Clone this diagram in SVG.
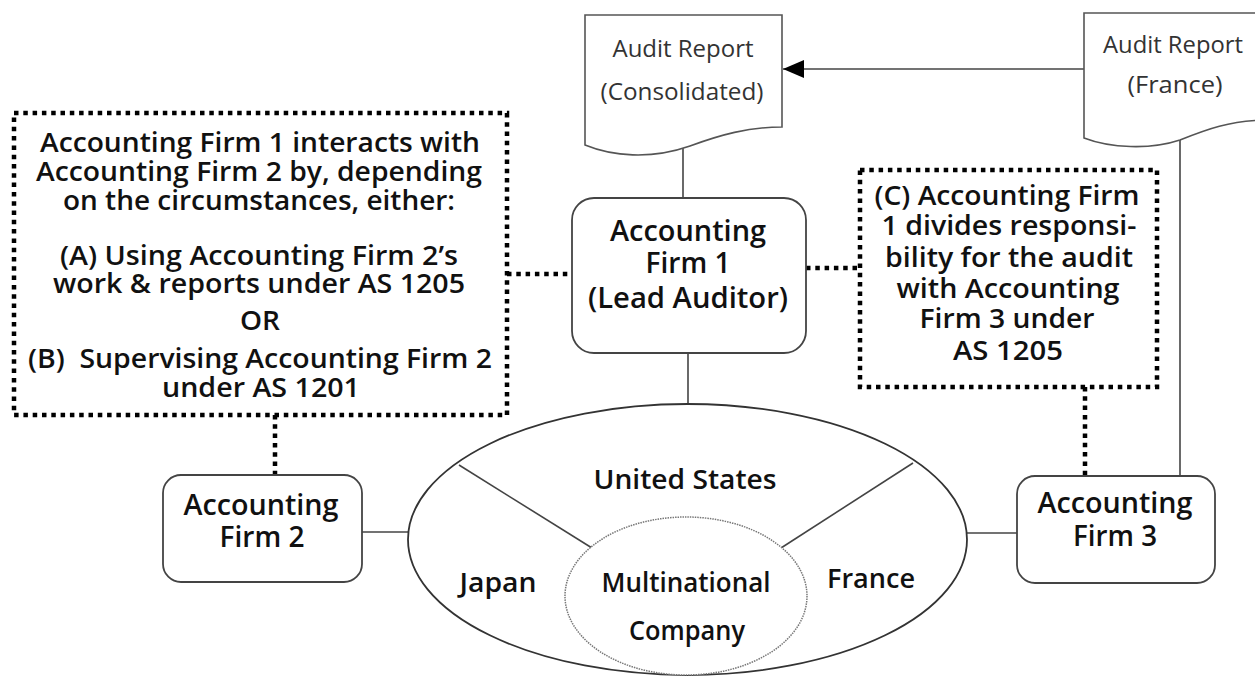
<svg xmlns="http://www.w3.org/2000/svg" width="1255" height="677" viewBox="0 0 1255 677">
<style>
  .doc{fill:#fff;stroke:#555;stroke-width:1.6}
  .box{fill:#fff;stroke:#444;stroke-width:1.8}
  .dotbox{fill:#fff;stroke:#000;stroke-width:4.5;stroke-dasharray:4.5 4.8}
  .dot{fill:none;stroke:#000;stroke-width:4.5;stroke-dasharray:4.5 4.8}
  .ln{fill:none;stroke:#444;stroke-width:1.6}
  .t{font-family:"Open Sans","Liberation Sans",sans-serif;font-weight:600;fill:#111;text-anchor:middle}
  .big{font-size:27px}
  .mid{font-size:28px}
  .lt{font-family:"Open Sans","Liberation Sans",sans-serif;font-weight:400;fill:#333;text-anchor:middle;font-size:24px}
  .el{font-family:"Open Sans","Liberation Sans",sans-serif;font-weight:600;fill:#111;text-anchor:middle;font-size:27px}
</style>
<defs>
  <marker id="arr" markerUnits="userSpaceOnUse" markerWidth="22" markerHeight="20" refX="21" refY="9" orient="auto">
    <path d="M0,0 L21,9 L0,18 Z" fill="#000"/>
  </marker>
</defs>
<rect width="1255" height="677" fill="#fff"/>

<g id="connectors">
  <line class="ln" x1="683" y1="147" x2="683" y2="198"/>
  <line class="ln" x1="1084" y1="69" x2="783" y2="69" marker-end="url(#arr)"/>
  <line class="ln" x1="1180" y1="140" x2="1180" y2="476"/>
  <line class="ln" x1="688" y1="353" x2="688" y2="413"/>
  <line class="dot" x1="507" y1="274" x2="572" y2="274"/>
  <line class="dot" x1="806" y1="268" x2="860" y2="268"/>
  <line class="dot" x1="275" y1="415" x2="275" y2="475"/>
  <line class="dot" x1="1085" y1="387" x2="1085" y2="476"/>
  <line class="ln" x1="362" y1="532" x2="473" y2="532"/>
  <line class="ln" x1="903" y1="533" x2="1017" y2="533"/>
</g>

<g id="company">
  <ellipse cx="687.5" cy="539.5" rx="279.5" ry="135.5" fill="#fff" stroke="#333" stroke-width="1.8"/>
  <line class="ln" x1="459" y1="465" x2="592" y2="548"/>
  <line class="ln" x1="913" y1="463" x2="781" y2="548"/>
  <ellipse cx="686" cy="596" rx="121" ry="79" fill="#fff" stroke="#777" stroke-width="1.5" stroke-dasharray="1.5 1"/>
  <text class="el" x="685" y="489" textLength="183" lengthAdjust="spacingAndGlyphs">United States</text>
  <text class="el" x="498" y="592" textLength="77" lengthAdjust="spacingAndGlyphs">Japan</text>
  <text class="el" x="871" y="588" textLength="88" lengthAdjust="spacingAndGlyphs">France</text>
  <text class="el" x="686" y="592" textLength="169" lengthAdjust="spacingAndGlyphs">Multinational</text>
  <text class="el" x="687" y="640" textLength="116" lengthAdjust="spacingAndGlyphs">Company</text>
</g>

<g id="report-consolidated">
  <path class="doc" d="M585,15 L782,15 L782,127 C748,127 720,135 690,146 C650,160 612,156 585,145 Z"/>
  <text class="lt" x="683" y="57" textLength="141" lengthAdjust="spacingAndGlyphs">Audit Report</text>
  <text class="lt" x="682" y="100" textLength="163" lengthAdjust="spacingAndGlyphs">(Consolidated)</text>
</g>

<g id="report-france">
  <path class="doc" d="M1084,13 L1270,13 L1270,120 C1230,120 1205,130 1180,140 C1150,150 1110,148 1084,138 Z"/>
  <text class="lt" x="1173" y="53" textLength="140" lengthAdjust="spacingAndGlyphs">Audit Report</text>
  <text class="lt" x="1175" y="93" textLength="95" lengthAdjust="spacingAndGlyphs">(France)</text>
</g>

<g id="note-ab">
  <rect class="dotbox" x="14" y="113" width="493" height="302"/>
  <text class="t big" x="260" y="152" textLength="440" lengthAdjust="spacingAndGlyphs">Accounting Firm 1 interacts with</text>
  <text class="t big" x="259" y="181" textLength="446" lengthAdjust="spacingAndGlyphs">Accounting Firm 2 by, depending</text>
  <text class="t big" x="259" y="210" textLength="392" lengthAdjust="spacingAndGlyphs">on the circumstances, either:</text>
  <text class="t big" x="259" y="265" textLength="398" lengthAdjust="spacingAndGlyphs">(A) Using Accounting Firm 2’s</text>
  <text class="t big" x="259" y="293" textLength="412" lengthAdjust="spacingAndGlyphs">work &amp; reports under AS 1205</text>
  <text class="t big" x="260" y="330" textLength="40" lengthAdjust="spacingAndGlyphs">OR</text>
  <text class="t big" x="260" y="368" textLength="464" lengthAdjust="spacingAndGlyphs" xml:space="preserve">(B)  Supervising Accounting Firm 2</text>
  <text class="t big" x="261" y="397" textLength="198" lengthAdjust="spacingAndGlyphs">under AS 1201</text>
</g>

<g id="note-c">
  <rect class="dotbox" x="860" y="170" width="297" height="217"/>
  <text class="t big" x="1007" y="205" textLength="265" lengthAdjust="spacingAndGlyphs">(C) Accounting Firm</text>
  <text class="t big" x="1009" y="235" textLength="255" lengthAdjust="spacingAndGlyphs">1 divides responsi-</text>
  <text class="t big" x="1009" y="267" textLength="248" lengthAdjust="spacingAndGlyphs">bility for the audit</text>
  <text class="t big" x="1008" y="298" textLength="223" lengthAdjust="spacingAndGlyphs">with Accounting</text>
  <text class="t big" x="1007" y="328" textLength="175" lengthAdjust="spacingAndGlyphs">Firm 3 under</text>
  <text class="t big" x="1008" y="360" textLength="110" lengthAdjust="spacingAndGlyphs">AS 1205</text>
</g>

<g id="firm1">
  <rect class="box" x="572" y="198" width="234" height="155" rx="22"/>
  <text class="t mid" x="688" y="241" textLength="156" lengthAdjust="spacingAndGlyphs">Accounting</text>
  <text class="t mid" x="688" y="273" textLength="85" lengthAdjust="spacingAndGlyphs">Firm 1</text>
  <text class="t mid" x="688" y="308" textLength="200" lengthAdjust="spacingAndGlyphs">(Lead Auditor)</text>
</g>

<g id="firm2">
  <rect class="box" x="163" y="475" width="199" height="107" rx="18"/>
  <text class="t mid" x="261" y="515" textLength="155" lengthAdjust="spacingAndGlyphs">Accounting</text>
  <text class="t mid" x="262" y="547" textLength="85" lengthAdjust="spacingAndGlyphs">Firm 2</text>
</g>

<g id="firm3">
  <rect class="box" x="1017" y="476" width="198" height="107" rx="18"/>
  <text class="t mid" x="1115" y="513" textLength="155" lengthAdjust="spacingAndGlyphs">Accounting</text>
  <text class="t mid" x="1115" y="546" textLength="84" lengthAdjust="spacingAndGlyphs">Firm 3</text>
</g>
</svg>
